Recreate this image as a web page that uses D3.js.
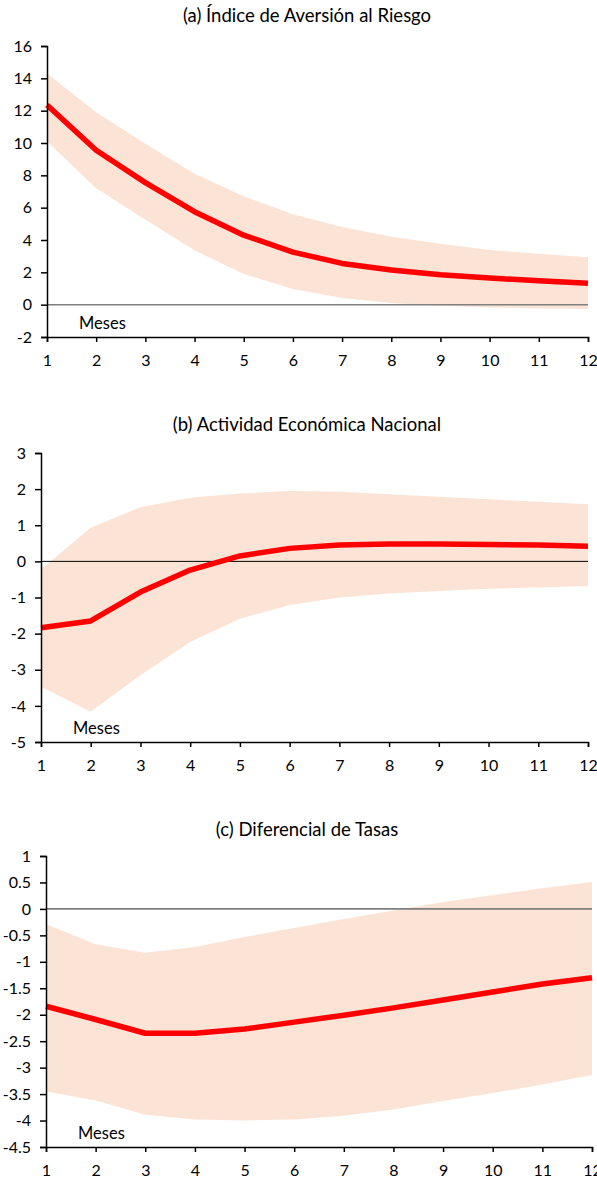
<!DOCTYPE html>
<meta charset="utf-8">
<style>
  body { margin: 0; background: #fff; }
  svg text { font-family: Lato, 'Noto Sans', sans-serif; fill: #000; }
  .tick text { font-size: 16px; }
</style>
<body>
<svg width="597" height="1178"></svg>
<script src="https://d3js.org/d3.v7.min.js"></script>
<script>

var months = [1, 2, 3, 4, 5, 6, 7, 8, 9, 10, 11, 12];

// (a) Indice de Aversion al Riesgo
var riesgoMid = [12.35, 9.55, 7.55, 5.75, 4.3, 3.25, 2.55, 2.15, 1.85, 1.65, 1.48, 1.33];
var riesgoHi  = [14.3, 11.9, 9.95, 8.1, 6.7, 5.6, 4.8, 4.2, 3.77, 3.38, 3.15, 2.94];
var riesgoLo  = [10.1, 7.2, 5.25, 3.36, 1.9, 0.97, 0.41, 0.1, -0.06, -0.17, -0.23, -0.27];
var riesgoTicks = [-2, 0, 2, 4, 6, 8, 10, 12, 14, 16];

// (b) Actividad Economica Nacional
var actividadMid = [-1.84, -1.65, -0.85, -0.24, 0.15, 0.36, 0.45, 0.48, 0.48, 0.47, 0.45, 0.42];
var actividadHi  = [-0.22, 0.93, 1.5, 1.76, 1.88, 1.95, 1.93, 1.86, 1.79, 1.72, 1.65, 1.58];
var actividadLo  = [-3.47, -4.16, -3.15, -2.23, -1.59, -1.21, -1.0, -0.89, -0.82, -0.76, -0.72, -0.68];
var actividadTicks = [-5, -4, -3, -2, -1, 0, 1, 2, 3];

// (c) Diferencial de Tasas
var tasasMid = [-1.84, -2.09, -2.35, -2.35, -2.27, -2.14, -2.01, -1.87, -1.72, -1.57, -1.42, -1.3];
var tasasHi  = [-0.29, -0.67, -0.83, -0.72, -0.53, -0.36, -0.19, -0.03, 0.13, 0.26, 0.39, 0.51];
var tasasLo  = [-3.45, -3.62, -3.89, -3.98, -4.0, -3.98, -3.91, -3.79, -3.63, -3.48, -3.32, -3.14];
var tasasTicks = [-4.5, -4, -3.5, -3, -2.5, -2, -1.5, -1, -0.5, 0, 0.5, 1];

var titles = ["(a) Índice de Aversión al Riesgo", "(b) Actividad Económica Nacional", "(c) Diferencial de Tasas"];
var xLabel = "Meses";

var svg = d3.select("svg");

var panels = [
  {title: titles[0], mid: riesgoMid, hi: riesgoHi, lo: riesgoLo, ticks: riesgoTicks,
   left: 47, right: 588, top: 46, bottom: 337, titleY: 22, zero: "#808080", zeroW: 1.5},
  {title: titles[1], mid: actividadMid, hi: actividadHi, lo: actividadLo, ticks: actividadTicks,
   left: 41, right: 588, top: 453, bottom: 742, titleY: 431, zero: "#000", zeroW: 1},
  {title: titles[2], mid: tasasMid, hi: tasasHi, lo: tasasLo, ticks: tasasTicks,
   left: 46, right: 592, top: 856, bottom: 1147, titleY: 836, zero: "#7f7f7f", zeroW: 1.6}
];

panels.forEach(function(p) {
  var g = svg.append("g");

  var x = d3.scaleLinear().domain([1, 12]).range([p.left, p.right]);
  var y = d3.scaleLinear().domain(d3.extent(p.ticks)).range([p.bottom, p.top]);

  var rows = months.map(function(m, i) {
    return {m: m, mid: p.mid[i], hi: p.hi[i], lo: p.lo[i]};
  });

  g.append("path")
    .datum(rows)
    .attr("fill", "#fbe4d6")
    .attr("d", d3.area()
      .x(function(d) { return x(d.m); })
      .y0(function(d) { return y(d.lo); })
      .y1(function(d) { return y(d.hi); }));

  g.append("line")
    .attr("x1", x(1)).attr("x2", x(12))
    .attr("y1", y(0)).attr("y2", y(0))
    .style("stroke", p.zero)
    .style("stroke-width", p.zeroW);

  g.append("path")
    .datum(rows)
    .attr("fill", "none")
    .attr("stroke", "#ff0000")
    .attr("stroke-width", 5.5)
    .attr("stroke-linejoin", "round")
    .attr("d", d3.line()
      .x(function(d) { return x(d.m); })
      .y(function(d) { return y(d.mid); }));

  var yAxis = g.append("g")
    .attr("transform", "translate(" + p.left + ",0)")
    .call(d3.axisLeft(y).tickValues(p.ticks).tickSize(6).tickPadding(9)
      .tickFormat(function(d) { return String(d); }));

  var xAxis = g.append("g")
    .attr("transform", "translate(0," + p.bottom + ")")
    .call(d3.axisBottom(x).tickValues(months).tickSize(5).tickPadding(13)
      .tickFormat(function(d) { return String(d); }));

  [yAxis, xAxis].forEach(function(ax) {
    ax.select(".domain").attr("stroke", "#000").attr("stroke-width", 1.5);
    ax.selectAll(".tick line").attr("stroke", "#000").attr("stroke-width", 1.5);
    ax.selectAll(".tick text").attr("fill", "#000");
  });

  g.append("text")
    .attr("x", 307)
    .attr("y", p.titleY)
    .attr("text-anchor", "middle")
    .style("font-size", "18.5px")
    .text(p.title);

  g.append("text")
    .attr("x", x(1) + 32)
    .attr("y", p.bottom - 8)
    .style("font-size", "16.5px")
    .text(xLabel);
});

</script>
</body>
